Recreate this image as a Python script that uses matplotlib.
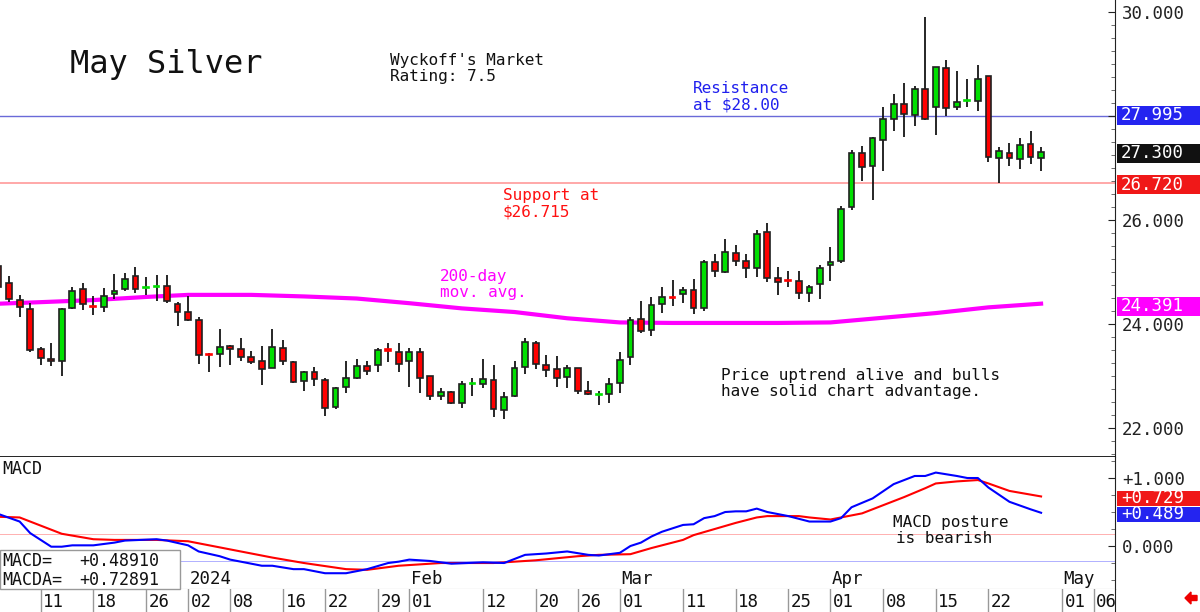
import numpy as np
import pandas as pd
import matplotlib
matplotlib.use("Agg")
import matplotlib.pyplot as plt
from matplotlib.patches import Rectangle, FancyArrow
from matplotlib.transforms import blended_transform_factory
from matplotlib.ticker import MultipleLocator, FuncFormatter

plt.rcParams['font.family'] = ['DejaVu Sans Mono', 'DejaVu Sans']

# trading days, Dec 5 2023 .. Apr 29 2024 (+ a few future days for the axis)
holidays = ['2023-12-25', '2024-01-01', '2024-01-15', '2024-02-19', '2024-03-29']
days = pd.bdate_range('2023-12-05', '2024-05-10', freq='C', holidays=holidays)

opens = [25.12, 24.79, 24.46, 24.29, 23.52, 23.33, 23.29, 24.30, 24.67, 24.35,
         24.32, 24.57, 24.67, 24.93, 24.70, 24.71, 24.74, 24.38, 24.24, 24.07,
         23.41, 23.42, 23.58, 23.52, 23.36, 23.28, 23.16, 23.53, 23.26, 22.90,
         23.08, 22.92, 22.40, 22.78, 22.96, 23.20, 23.21, 23.51, 23.47, 23.29,
         23.47, 23.00, 22.62, 22.70, 22.48, 22.85, 22.84, 22.92, 22.35, 22.62,
         23.17, 23.63, 23.22, 23.13, 22.98, 23.15, 22.71, 22.63, 22.65, 22.87,
         23.36, 24.10, 23.88, 24.38, 24.52, 24.57, 24.65, 24.31, 25.19, 25.00,
         25.36, 25.22, 25.07, 25.76, 24.88, 24.83, 24.83, 24.59, 24.76, 25.13,
         25.22, 26.25, 27.28, 27.04, 27.54, 27.94, 28.24, 28.02, 28.51, 28.18,
         28.92, 28.18, 28.28, 28.29, 28.76, 27.19, 27.29, 27.17, 27.46, 27.19]
highs = [25.15, 24.92, 24.56, 24.40, 23.56, 23.64, 24.30, 24.72, 24.78, 24.54,
         24.69, 24.96, 24.99, 25.10, 24.90, 24.94, 24.94, 24.43, 24.54, 24.13,
         23.45, 23.90, 23.60, 23.74, 23.49, 23.58, 23.90, 23.69, 23.28, 23.10,
         23.18, 22.96, 22.78, 23.29, 23.33, 23.29, 23.54, 23.63, 23.63, 23.54,
         23.54, 23.00, 22.76, 22.71, 22.90, 22.96, 23.33, 23.21, 22.69, 23.29,
         23.74, 23.68, 23.40, 23.38, 23.21, 23.16, 22.91, 22.72, 22.97, 23.46,
         24.14, 24.45, 24.51, 24.72, 24.85, 24.71, 24.87, 25.23, 25.34, 25.63,
         25.51, 25.35, 25.81, 25.95, 25.09, 25.02, 25.02, 24.75, 25.13, 25.49,
         26.27, 27.35, 27.43, 27.60, 28.18, 28.42, 28.63, 28.58, 29.90, 28.94,
         29.08, 28.87, 28.71, 28.98, 28.76, 27.40, 27.49, 27.58, 27.72, 27.41]
lows = [24.67, 24.43, 24.14, 23.47, 23.21, 23.19, 23.00, 24.28, 24.26, 24.17,
        24.24, 24.49, 24.64, 24.59, 24.56, 24.45, 24.41, 23.96, 24.06, 23.24,
        23.08, 23.18, 23.21, 23.28, 23.24, 22.83, 23.15, 23.21, 22.86, 22.72,
        22.81, 22.24, 22.36, 22.67, 22.94, 23.02, 23.08, 23.26, 23.08, 22.79,
        22.68, 22.53, 22.54, 22.46, 22.39, 22.62, 22.76, 22.22, 22.17, 22.60,
        23.04, 23.13, 22.99, 22.78, 22.76, 22.65, 22.63, 22.44, 22.48, 22.68,
        23.21, 23.82, 23.76, 24.21, 24.35, 24.41, 24.19, 24.25, 24.91, 24.98,
        25.12, 24.89, 24.91, 24.81, 24.56, 24.71, 24.48, 24.43, 24.48, 24.83,
        25.17, 26.19, 26.75, 26.38, 26.94, 27.71, 27.60, 27.81, 27.92, 27.63,
        28.00, 28.12, 28.18, 28.10, 27.12, 26.71, 27.04, 26.98, 27.07, 26.94]
closes = [24.71, 24.49, 24.33, 23.50, 23.34, 23.28, 24.29, 24.64, 24.38, 24.33,
          24.54, 24.63, 24.86, 24.67, 24.72, 24.74, 24.45, 24.24, 24.08, 23.40,
          23.40, 23.56, 23.52, 23.37, 23.26, 23.13, 23.55, 23.29, 22.89, 23.08,
          22.94, 22.38, 22.76, 22.97, 23.20, 23.10, 23.50, 23.49, 23.24, 23.47,
          22.96, 22.62, 22.69, 22.49, 22.84, 22.86, 22.94, 22.36, 22.60, 23.15,
          23.65, 23.24, 23.12, 22.97, 23.15, 22.72, 22.65, 22.65, 22.84, 23.31,
          24.08, 23.87, 24.37, 24.51, 24.50, 24.65, 24.31, 25.20, 25.01, 25.38,
          25.22, 25.07, 25.74, 24.89, 24.81, 24.82, 24.59, 24.72, 25.07, 25.20,
          26.22, 27.29, 27.01, 27.58, 27.94, 28.24, 28.03, 28.51, 27.94, 28.94,
          28.16, 28.26, 28.29, 28.71, 27.22, 27.33, 27.19, 27.44, 27.22, 27.30]

# 200-day moving average (candle number, value)
ma_pos = [0, 4, 9, 14, 18, 24, 29, 34, 39, 44, 49, 54, 59, 64, 69, 74, 79, 84, 89, 94, 99]
ma_val = [24.39, 24.42, 24.46, 24.52, 24.56, 24.56, 24.53, 24.49, 24.40, 24.30, 24.23,
          24.11, 24.03, 24.02, 24.02, 24.02, 24.03, 24.12, 24.21, 24.32, 24.391]

# MACD (blue) and MACDA (red) readings
macd_pos = [0, 2, 3, 5, 6, 7, 9, 11, 12, 15, 16, 18, 19, 21, 22, 23, 25, 26, 28, 29, 31,
            33, 35, 37, 38, 39, 41, 43, 46, 48, 50, 52, 54, 56, 57, 58, 59, 60, 61, 62,
            63, 65, 66, 67, 68, 69, 70, 71, 72, 73, 75, 77, 79, 80, 81, 83, 85, 86, 87,
            88, 89, 91, 92, 93, 94, 96, 98, 99]
macd_val = [0.47, 0.36, 0.19, -0.01, -0.01, 0.01, 0.01, 0.05, 0.08, 0.10, 0.08, 0.01,
            -0.08, -0.15, -0.20, -0.23, -0.29, -0.29, -0.34, -0.34, -0.40, -0.40, -0.34,
            -0.25, -0.23, -0.20, -0.22, -0.26, -0.24, -0.25, -0.13, -0.11, -0.08, -0.13,
            -0.14, -0.12, -0.10, 0.00, 0.05, 0.14, 0.21, 0.31, 0.32, 0.41, 0.44, 0.50,
            0.51, 0.51, 0.55, 0.50, 0.44, 0.36, 0.36, 0.41, 0.57, 0.70, 0.91, 0.97, 1.03,
            1.03, 1.08, 1.03, 1.00, 1.00, 0.86, 0.65, 0.54, 0.489]
sig_pos = [0, 2, 3, 5, 6, 9, 11, 15, 18, 19, 22, 26, 29, 33, 35, 38, 42, 47, 51, 55, 57,
           60, 62, 65, 66, 68, 70, 72, 73, 76, 77, 79, 82, 84, 86, 88, 89, 91, 93, 94, 96, 99]
sig_val = [0.43, 0.42, 0.36, 0.24, 0.18, 0.10, 0.09, 0.09, 0.07, 0.04, -0.05, -0.17,
           -0.25, -0.34, -0.35, -0.29, -0.25, -0.25, -0.21, -0.15, -0.13, -0.12, -0.03,
           0.09, 0.16, 0.25, 0.34, 0.42, 0.44, 0.44, 0.42, 0.39, 0.48, 0.60, 0.72, 0.85,
           0.92, 0.95, 0.97, 0.92, 0.81, 0.729]

day_ticks = ['2023-12-11', '2023-12-18', '2023-12-26', '2024-01-02', '2024-01-08',
             '2024-01-16', '2024-01-22', '2024-01-29', '2024-02-01', '2024-02-12',
             '2024-02-20', '2024-02-26', '2024-03-01', '2024-03-11', '2024-03-18',
             '2024-03-25', '2024-04-01', '2024-04-08', '2024-04-15', '2024-04-22',
             '2024-05-01', '2024-05-06']
month_ticks = {'2024-01-02': '2024', '2024-02-01': 'Feb', '2024-03-01': 'Mar',
               '2024-04-01': 'Apr', '2024-05-01': 'May'}

resistance = 27.995
support = 26.72
last_close = 27.30
ma_last = 24.391
macd_last = 0.48910
macda_last = 0.72891

GREEN = '#00e000'
RED = '#ff0000'
MAG = '#ff00ff'
BLUE = '#0000ff'

W, H = 1200, 612
fig = plt.figure(figsize=(W / 100, H / 100), dpi=100)
ax = fig.add_axes([0, 155 / H, 1115 / W, 457 / H])
mx = fig.add_axes([0, 23 / H, 1115 / W, 132 / H])
dx = fig.add_axes([0, 0, 1115 / W, 23 / H])

xlo, xhi = 0.135, 106.02
for a in (ax, mx, dx):
    a.set_xlim(xlo, xhi)
    a.set_xticks([])

# ---- price panel
x = np.arange(len(opens))
o, h, l, c = map(np.array, (opens, highs, lows, closes))
up = c >= o
cols = np.where(up, GREEN, RED)
doji = np.abs(c - o) < 0.03
edges = np.where(doji, cols, '#202020')
ax.vlines(x, l, h, color='#151515', lw=1.3, zorder=2)
body = np.maximum(np.abs(c - o), 0.02)
ax.bar(x, body, bottom=np.minimum(o, c), width=0.55, color=cols,
       edgecolor=edges, linewidth=1.2, zorder=3)

ax.plot(ma_pos, ma_val, color=MAG, lw=3, zorder=1)
ax.axhline(resistance, color='#6a6ad8', lw=1, zorder=0)
ax.axhline(support, color='#ff9a9a', lw=1.2, zorder=0)

ax.set_ylim(21.442, 30.231)
for s in ('top', 'left'):
    ax.spines[s].set_visible(False)
ax.spines['right'].set_color('#222')
ax.spines['bottom'].set_color('#111')
ax.spines['bottom'].set_linewidth(1.3)
ax.yaxis.tick_right()
ax.yaxis.set_major_locator(MultipleLocator(2))
ax.yaxis.set_minor_locator(MultipleLocator(0.25))
# the 28.000 label sits under the resistance box, so leave it blank
ax.yaxis.set_major_formatter(FuncFormatter(lambda v, p: '' if abs(v - 28) < 1e-6 else f'{v:.3f}'))
ax.tick_params(axis='y', which='major', direction='in', length=5, pad=5,
               labelsize=12.5, colors='#222')
ax.tick_params(axis='y', which='minor', direction='in', length=3, color='#555')

# ---- MACD panel
mx.plot(macd_pos, macd_val, color=BLUE, lw=1.5, zorder=3)
mx.plot(sig_pos, sig_val, color=RED, lw=1.5, zorder=2)
mx.axhline(0.176, color='#ffb0b0', lw=0.7, zorder=0)
mx.axhline(-0.22, color='#b0b0ff', lw=0.7, zorder=0)
mx.set_ylim(-0.632, 1.309)
mx.spines['top'].set_visible(False)
mx.spines['left'].set_visible(False)
mx.spines['right'].set_color('#222')
mx.spines['bottom'].set_color('#999')
mx.yaxis.tick_right()
mx.yaxis.set_major_locator(MultipleLocator(1))
mx.yaxis.set_minor_locator(MultipleLocator(0.25))
mx.yaxis.set_major_formatter(FuncFormatter(lambda v, p: '0.000' if abs(v) < 1e-9 else f'{v:+.3f}'))
mx.tick_params(axis='y', which='major', direction='in', length=5, pad=5,
               labelsize=12.5, colors='#222')
mx.tick_params(axis='y', which='minor', direction='in', length=3, color='#555')

# month labels inside MACD panel
for d, lab in month_ticks.items():
    k = days.get_loc(pd.Timestamp(d))
    mx.text(k + 0.15, -0.565, lab, fontsize=12.5, color='#111', va='baseline', ha='left')

# ---- date row
dx.set_ylim(0, 1)
for s in ('top', 'left', 'bottom'):
    dx.spines[s].set_visible(False)
dx.spines['right'].set_color('#222')
dx.set_yticks([])
for d in day_ticks:
    k = days.get_loc(pd.Timestamp(d))
    dx.axvline(k, color='#999', lw=1)
    dx.text(k + 0.25, 0.42, d[-2:], fontsize=12.5, color='#111', va='center', ha='left')


# ---- value boxes on the right scale
def value_box(axis, val, txt, face, hgt):
    tr = blended_transform_factory(fig.transFigure, axis.transData)
    axis.add_patch(Rectangle((1117 / W, val - hgt / 2), 83 / W, hgt, transform=tr,
                             facecolor=face, edgecolor='none', clip_on=False, zorder=10))
    axis.text(1121 / W, val, txt, transform=tr, color='white', fontsize=12.5,
              va='center', ha='left', zorder=11, clip_on=False)


value_box(ax, resistance + 0.02, f'{resistance:.3f}', '#2424f0', 0.37)
value_box(ax, last_close - 0.02, f'{last_close:.3f}', '#111111', 0.37)
value_box(ax, support - 0.04, f'{support:.3f}', '#f01818', 0.37)
value_box(ax, ma_last - 0.05, f'{ma_last:.3f}', MAG, 0.37)
value_box(mx, 0.70, f'{round(macda_last, 3):+.3f}', '#f01818', 0.23)
value_box(mx, 0.465, f'{round(macd_last, 3):+.3f}', '#2424f0', 0.23)


# ---- annotations (pixel positions)
def put(xp, yp, lines, color='#111', size=11.5, step=16.3):
    for n, t in enumerate(lines):
        fig.text(xp / W, 1 - (yp + n * step) / H, t, color=color, fontsize=size,
                 va='baseline', ha='left')


put(70, 73, ['May Silver'], size=23)
put(390, 65, ["Wyckoff's Market", 'Rating: 7.5'])
put(693, 93, ['Resistance', 'at $28.00'], color='#2020ee')
put(503, 200, ['Support at', '$26.715'], color='#ff1010')
put(440, 281, ['200-day', 'mov. avg.'], color=MAG)
put(721, 380, ['Price uptrend alive and bulls', 'have solid chart advantage.'])
put(893, 527, ['MACD posture'])
put(896, 543, ['is bearish'])
put(2, 474, ['MACD'], size=12)

# info box with last MACD readings
fig.patches.append(Rectangle((0, (H - 589) / 100), 1.8, 0.39, transform=fig.dpi_scale_trans,
                             facecolor='white', edgecolor='#999', lw=1, zorder=5))
fig.text(2 / W, 1 - 566 / H, 'MACD=', fontsize=12, color='#111', zorder=6)
fig.text(79 / W, 1 - 566 / H, f'{macd_last:+.5f}', fontsize=12, color='#111', zorder=6)
fig.text(2 / W, 1 - 585 / H, 'MACDA=', fontsize=12, color='#111', zorder=6)
fig.text(79 / W, 1 - 585 / H, f'{macda_last:+.5f}', fontsize=12, color='#111', zorder=6)

# little red arrow bottom right
fig.patches.append(FancyArrow(11.97, 0.14, -0.06, 0, width=0.05, head_width=0.12,
                              head_length=0.06, transform=fig.dpi_scale_trans,
                              color='#ee0000', length_includes_head=False))

fig.savefig('out.png', dpi=100)
